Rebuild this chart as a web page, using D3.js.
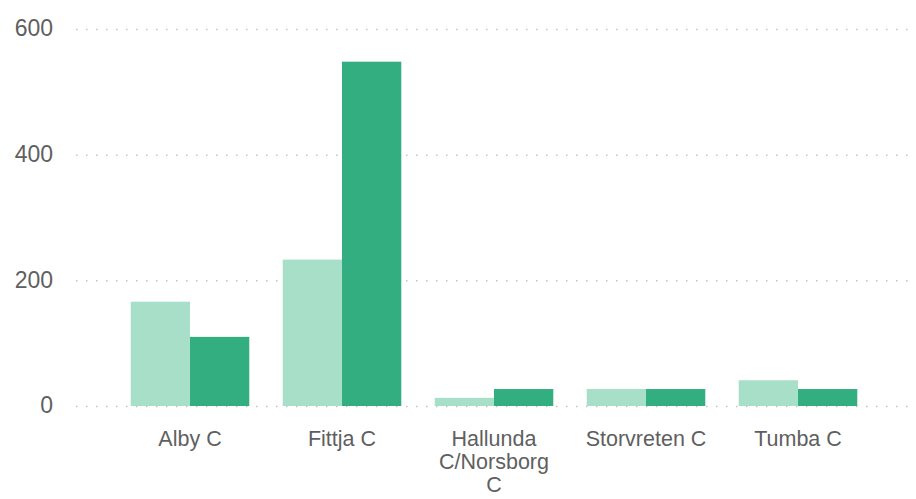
<!DOCTYPE html>
<html>
<head>
<meta charset="utf-8">
<script src="https://cdn.jsdelivr.net/npm/d3@7"></script>
<style>
	body { margin: 0; background: #fff; font-family: "Liberation Sans", Arial, sans-serif; }
	.grid line { stroke: #c4c4c4; stroke-dasharray: 1.5,8.5; stroke-width: 1.5; }
	.grid .domain { display: none; }
	.y.axis text { fill: #5f5f5f; font-size: 23px; }
	.x.axis text { fill: #5f5f5f; font-size: 21.5px; }
	.axis .domain, .axis line { display: none; }
</style>
</head>
<body>
<div id="graphic"></div>
<script>
var CATEGORIES = ['Alby C', 'Fittja C', 'Hallunda C/Norsborg C', 'Storvreten C', 'Tumba C'];
var LABEL_LINES = [['Alby C'], ['Fittja C'], ['Hallunda', 'C/Norsborg', 'C'], ['Storvreten C'], ['Tumba C']];
var SERIES_A = [166, 233, 13, 27, 41];
var SERIES_B = [110, 548, 27, 27, 27];
var Y_TICKS = [0, 200, 400, 600];
var COLORS = ['#a8dfc9', '#33ae81'];

var width = 916, height = 499;

var svg = d3.select('#graphic').append('svg')
	.attr('width', width)
	.attr('height', height);

var xScale = d3.scaleBand()
	.domain(CATEGORIES)
	.range([114, 874])
	.paddingInner(0.22)
	.paddingOuter(0.11);

var subScale = d3.scaleBand()
	.domain([0, 1])
	.range([0, xScale.bandwidth()]);

var yScale = d3.scaleLinear()
	.domain([0, 600])
	.range([406, 29]);

// gridlines
svg.append('g')
	.attr('class', 'grid')
	.attr('transform', 'translate(76,0)')
	.call(d3.axisLeft(yScale).tickValues(Y_TICKS).tickSize(-(width - 76)).tickFormat(''));

// y labels
svg.append('g')
	.attr('class', 'y axis')
	.attr('transform', 'translate(53,0)')
	.call(d3.axisLeft(yScale).tickValues(Y_TICKS).tickSize(0).tickPadding(0))
	.selectAll('text')
	.attr('dy', '0.3em');

// bars
var groups = svg.append('g')
	.selectAll('g')
	.data(CATEGORIES)
	.enter().append('g')
	.attr('transform', function(d) { return 'translate(' + xScale(d) + ',0)'; });

groups.selectAll('rect')
	.data(function(d, i) { return [SERIES_A[i], SERIES_B[i]]; })
	.enter().append('rect')
	.attr('x', function(d, j) { return subScale(j); })
	.attr('width', subScale.bandwidth())
	.attr('y', function(d) { return yScale(d); })
	.attr('height', function(d) { return yScale(0) - yScale(d); })
	.attr('fill', function(d, j) { return COLORS[j]; });

// x labels
var xAxis = svg.append('g')
	.attr('class', 'x axis')
	.attr('transform', 'translate(0,406)')
	.call(d3.axisBottom(xScale).tickSize(0).tickFormat(''));

xAxis.selectAll('.tick').each(function(d, i) {
	var t = d3.select(this).append('text')
		.attr('text-anchor', 'middle')
		.attr('y', 40);
	LABEL_LINES[i].forEach(function(line, k) {
		t.append('tspan')
			.attr('x', 0)
			.attr('dy', k === 0 ? 0 : 23)
			.text(line);
	});
});
</script>
</body>
</html>
